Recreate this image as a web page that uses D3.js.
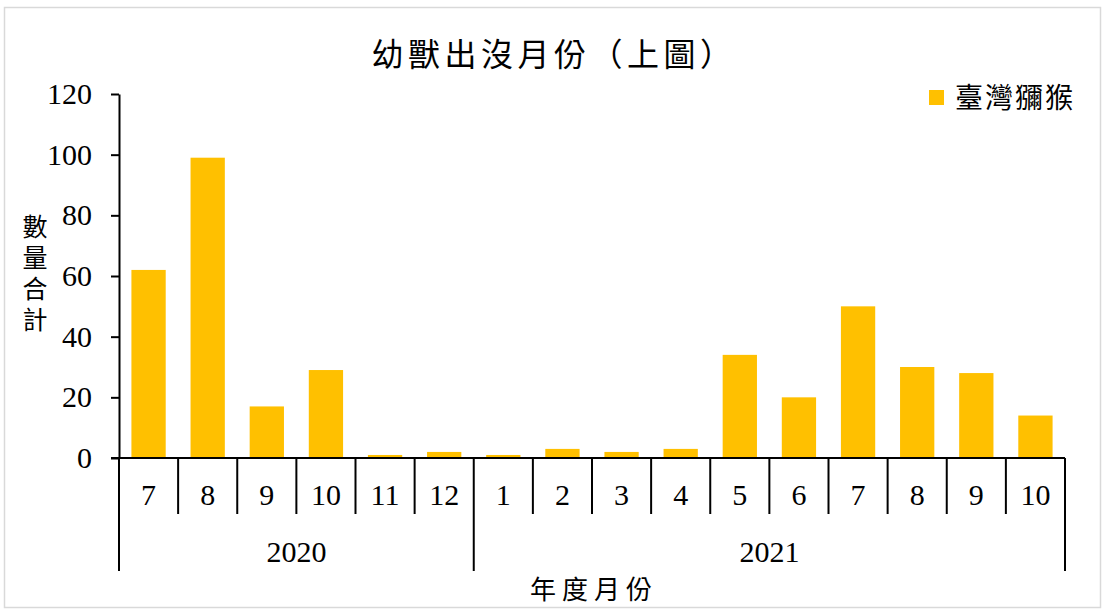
<!DOCTYPE html>
<html><head><meta charset="utf-8">
<script src="https://cdn.jsdelivr.net/npm/d3@7"></script>
<style>body{margin:0;background:#fff}</style>
</head><body>
<script>
const months = ["7","8","9","10","11","12","1","2","3","4","5","6","7","8","9","10"];
const years = ["2020","2020","2020","2020","2020","2020","2021","2021","2021","2021","2021","2021","2021","2021","2021","2021"];
const values = [62,99,17,29,1,2,1,3,2,3,34,20,50,30,28,14];
const yTicks = [0,20,40,60,80,100,120];
const seriesName = "臺灣獼猴";
const title = "幼獸出沒月份（上圖）";
const xTitle = "年度月份";
const yTitle = "數量合計";

(function(){
const W=1105,H=610;
const svg=d3.select("body").append("svg").attr("width",W).attr("height",H);
svg.append("rect").attr("x",4.5).attr("y",7.5).attr("width",1096).attr("height",600)
  .attr("fill","#fff").attr("stroke","#d9d9d9").attr("stroke-width",1.5);

const mL=119,mR=1065,mT=94,mB=458;
const idx=d3.range(values.length);
const x=d3.scaleBand().domain(idx).range([mL,mR]).paddingInner(0.42).paddingOuter(0.21);
const y=d3.scaleLinear().domain([0,120]).range([mB,mT]);
const serif="'Liberation Serif','Times New Roman',serif";
const cjk="'Noto Sans CJK TC','Noto Sans CJK SC',sans-serif";

svg.selectAll("rect.bar").data(values).join("rect").attr("class","bar")
  .attr("x",(d,i)=>x(i)).attr("width",x.bandwidth())
  .attr("y",d=>y(d)).attr("height",d=>mB-y(d)).attr("fill","#ffc000");

const ya=svg.append("g").attr("transform",`translate(${mL},0)`)
  .call(d3.axisLeft(y).tickValues(yTicks).tickSize(8).tickSizeOuter(0));
ya.select(".domain").attr("stroke","#000").attr("stroke-width",2);
ya.selectAll(".tick line").attr("stroke","#000").attr("stroke-width",2);
ya.selectAll(".tick text").attr("font-family",serif).attr("font-size",30).attr("fill","#000").attr("x",-27);

svg.append("line").attr("x1",mL-8).attr("x2",mR).attr("y1",mB).attr("y2",mB)
  .attr("stroke","#000").attr("stroke-width",2);

const step=x.step();
const bx=i=>mL+i*step;
const g=svg.append("g");
d3.range(values.length+1).forEach(i=>{
  const isYear = i===0 || i===values.length || years[i]!==years[i-1];
  g.append("line").attr("x1",bx(i)).attr("x2",bx(i)).attr("y1",mB).attr("y2",isYear?571:514)
   .attr("stroke","#000").attr("stroke-width",2);
});
g.selectAll("text.m").data(months).join("text").attr("class","m")
  .attr("x",(d,i)=>bx(i)+step/2).attr("y",505).attr("text-anchor","middle")
  .attr("font-family",serif).attr("font-size",30).text(d=>d);
const yrs=[...new Set(years)];
yrs.forEach(yr=>{
  const first=years.indexOf(yr), last=years.lastIndexOf(yr);
  g.append("text").attr("x",(bx(first)+bx(last+1))/2).attr("y",562).attr("text-anchor","middle")
   .attr("font-family",serif).attr("font-size",30).text(yr);
});

svg.append("text").attr("x",554).attr("y",66).attr("text-anchor","middle")
  .attr("font-family",cjk).attr("font-size",32).attr("letter-spacing",4.5).text(title);
svg.append("text").attr("x",594).attr("y",599).attr("text-anchor","middle")
  .attr("font-family",cjk).attr("font-size",26).attr("letter-spacing",6).text(xTitle);
svg.append("text").attr("font-family",cjk).attr("font-size",25)
  .attr("text-anchor","middle").attr("x",35).attr("y",276)
  .style("writing-mode","vertical-rl").attr("letter-spacing",6).text(yTitle);

svg.append("rect").attr("x",929).attr("y",90).attr("width",15).attr("height",15).attr("fill","#ffc000");
svg.append("text").attr("x",955).attr("y",108).attr("font-family",cjk).attr("font-size",28).attr("letter-spacing",2).text(seriesName);
})();
</script>
</body></html>
